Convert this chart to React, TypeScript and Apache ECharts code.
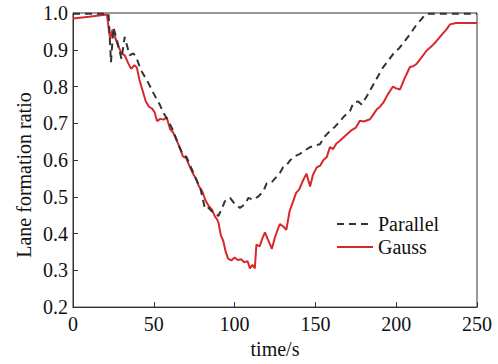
import React, { useEffect, useRef } from "react";
import * as echarts from "echarts";

const parallelT = [0, 22, 23.5, 25, 27, 30, 32, 35, 37.5, 39.5, 42, 44, 46.6, 50, 53.8, 56, 59, 62, 65.8, 68, 70.3, 73, 76, 79, 81.7, 84, 86, 89.9, 92, 94, 97.2, 100.2, 103.3, 106.4, 108.5, 111.6, 114.7, 117.8, 119.9, 123, 126, 128, 130.1, 132, 134.3, 137, 140.5, 143, 146.7, 150, 152.8, 156, 159, 162, 165.2, 168, 171.4, 173.5, 176.5, 178.6, 182, 185.8, 189, 192, 195, 198.2, 202, 205.4, 209, 212.7, 215, 217.8, 220, 250];
const parallelV = [0.998, 0.998, 0.866, 0.96, 0.93, 0.875, 0.935, 0.885, 0.89, 0.875, 0.845, 0.83, 0.81, 0.78, 0.75, 0.728, 0.706, 0.68, 0.635, 0.615, 0.608, 0.58, 0.55, 0.52, 0.467, 0.47, 0.46, 0.448, 0.466, 0.488, 0.497, 0.48, 0.47, 0.48, 0.497, 0.492, 0.501, 0.515, 0.537, 0.54, 0.555, 0.565, 0.581, 0.585, 0.599, 0.61, 0.617, 0.625, 0.635, 0.64, 0.643, 0.665, 0.679, 0.69, 0.706, 0.72, 0.733, 0.756, 0.759, 0.751, 0.775, 0.805, 0.83, 0.853, 0.87, 0.889, 0.905, 0.924, 0.945, 0.969, 0.98, 0.995, 0.998, 0.998];

const gaussT = [0, 10, 21, 22, 23, 24.5, 26, 28, 30, 32, 34, 36, 38, 39.5, 41, 43, 45, 47, 49, 50.5, 52, 54, 56, 58, 60, 62, 64, 66, 68, 70, 72, 74, 76, 78, 80, 82, 84, 86, 88, 89, 90, 91.5, 93, 94.5, 96, 98, 100, 102, 104, 106, 108, 109.5, 111, 112.5, 113.5, 115.5, 117, 118.8, 120.5, 122, 123, 125, 127, 128, 130, 132, 134, 136, 138, 140, 142.5, 144.5, 146.7, 148.5, 150.8, 153, 155, 157, 159, 161, 163, 165, 167, 169.5, 172, 175, 177.5, 180, 183.8, 186, 188, 190, 192, 195, 198, 200, 202.4, 205, 208.5, 210.5, 212.7, 215, 218.9, 222, 225, 228, 231, 233.3, 237, 250];
const gaussV = [0.985, 0.99, 0.996, 0.96, 0.93, 0.955, 0.935, 0.91, 0.89, 0.885, 0.865, 0.848, 0.858, 0.852, 0.82, 0.79, 0.76, 0.745, 0.74, 0.73, 0.706, 0.712, 0.71, 0.716, 0.685, 0.675, 0.655, 0.635, 0.61, 0.605, 0.585, 0.565, 0.55, 0.528, 0.515, 0.49, 0.475, 0.465, 0.445, 0.44, 0.43, 0.395, 0.38, 0.35, 0.332, 0.327, 0.335, 0.328, 0.33, 0.322, 0.325, 0.305, 0.315, 0.305, 0.37, 0.365, 0.385, 0.403, 0.385, 0.37, 0.358, 0.39, 0.415, 0.426, 0.42, 0.41, 0.46, 0.485, 0.51, 0.52, 0.546, 0.563, 0.528, 0.56, 0.58, 0.585, 0.6, 0.608, 0.635, 0.63, 0.645, 0.652, 0.66, 0.67, 0.68, 0.688, 0.707, 0.705, 0.711, 0.725, 0.738, 0.745, 0.756, 0.78, 0.8, 0.795, 0.792, 0.82, 0.853, 0.855, 0.862, 0.875, 0.898, 0.91, 0.924, 0.94, 0.955, 0.969, 0.973, 0.973];

const seriesNames = ["Parallel", "Gauss"];
const xTitle = "time/s";
const yTitle = "Lane formation ratio";

const FONT = "'Liberation Serif', 'Times New Roman', serif";
const DASH_COLOR = "#333";
const RED = "#d9282c";

export default function App() {
  const ref = useRef<HTMLDivElement>(null);
  useEffect(() => {
    if (!ref.current) return;
    const chart = echarts.init(ref.current, undefined, { renderer: "svg" });
    const axisLine = { show: true, lineStyle: { color: "#333", width: 1 } };
    const textStyle = { fontFamily: FONT, fontSize: 20, fill: "#111" };
    chart.setOption({
      animation: false,
      backgroundColor: "#fff",
      grid: { left: 73, right: 21, top: 13, bottom: 51, show: true, borderColor: "#333", borderWidth: 1 },
      graphic: [
        {
          type: "text",
          x: 24,
          y: 175,
          rotation: Math.PI / 2,
          style: { ...textStyle, text: yTitle, textAlign: "center", textVerticalAlign: "middle" },
        },
        {
          type: "line",
          shape: { x1: 337, y1: 224, x2: 373, y2: 224 },
          style: { stroke: DASH_COLOR, lineWidth: 2, lineDash: [7, 5] },
        },
        {
          type: "line",
          shape: { x1: 337, y1: 247, x2: 373, y2: 247 },
          style: { stroke: RED, lineWidth: 2 },
        },
        {
          type: "text",
          x: 378,
          y: 224,
          style: { ...textStyle, text: seriesNames[0], textAlign: "left", textVerticalAlign: "middle" },
        },
        {
          type: "text",
          x: 378,
          y: 247,
          style: { ...textStyle, text: seriesNames[1], textAlign: "left", textVerticalAlign: "middle" },
        },
      ],
      xAxis: {
        type: "value",
        min: 0,
        max: 250,
        interval: 50,
        name: xTitle,
        nameLocation: "middle",
        nameGap: 31,
        nameTextStyle: { fontFamily: FONT, fontSize: 20, color: "#111" },
        axisLine,
        axisTick: { show: true, inside: true, length: 5, lineStyle: { color: "#333" } },
        axisLabel: { fontFamily: FONT, fontSize: 20, color: "#111", margin: 7 },
        splitLine: { show: false },
      },
      yAxis: {
        type: "value",
        min: 0.2,
        max: 1.0,
        interval: 0.1,
        axisLine,
        axisTick: { show: true, inside: true, length: 5, lineStyle: { color: "#333" } },
        axisLabel: { fontFamily: FONT, fontSize: 20, color: "#111", margin: 5, formatter: (v: number) => v.toFixed(1) },
        splitLine: { show: false },
      },
      series: [
        {
          name: seriesNames[0],
          type: "line",
          symbol: "none",
          z: 3,
          data: parallelT.map((t, i) => [t, parallelV[i]]),
          lineStyle: { color: DASH_COLOR, width: 2, type: [7, 5] },
          itemStyle: { color: DASH_COLOR },
        },
        {
          name: seriesNames[1],
          type: "line",
          symbol: "none",
          z: 2,
          data: gaussT.map((t, i) => [t, gaussV[i]]),
          lineStyle: { color: RED, width: 2 },
          itemStyle: { color: RED },
        },
      ],
    });
    return () => chart.dispose();
  }, []);
  return <div ref={ref} style={{ width: 498, height: 364, position: "absolute", left: 0, top: 0 }} />;
}
